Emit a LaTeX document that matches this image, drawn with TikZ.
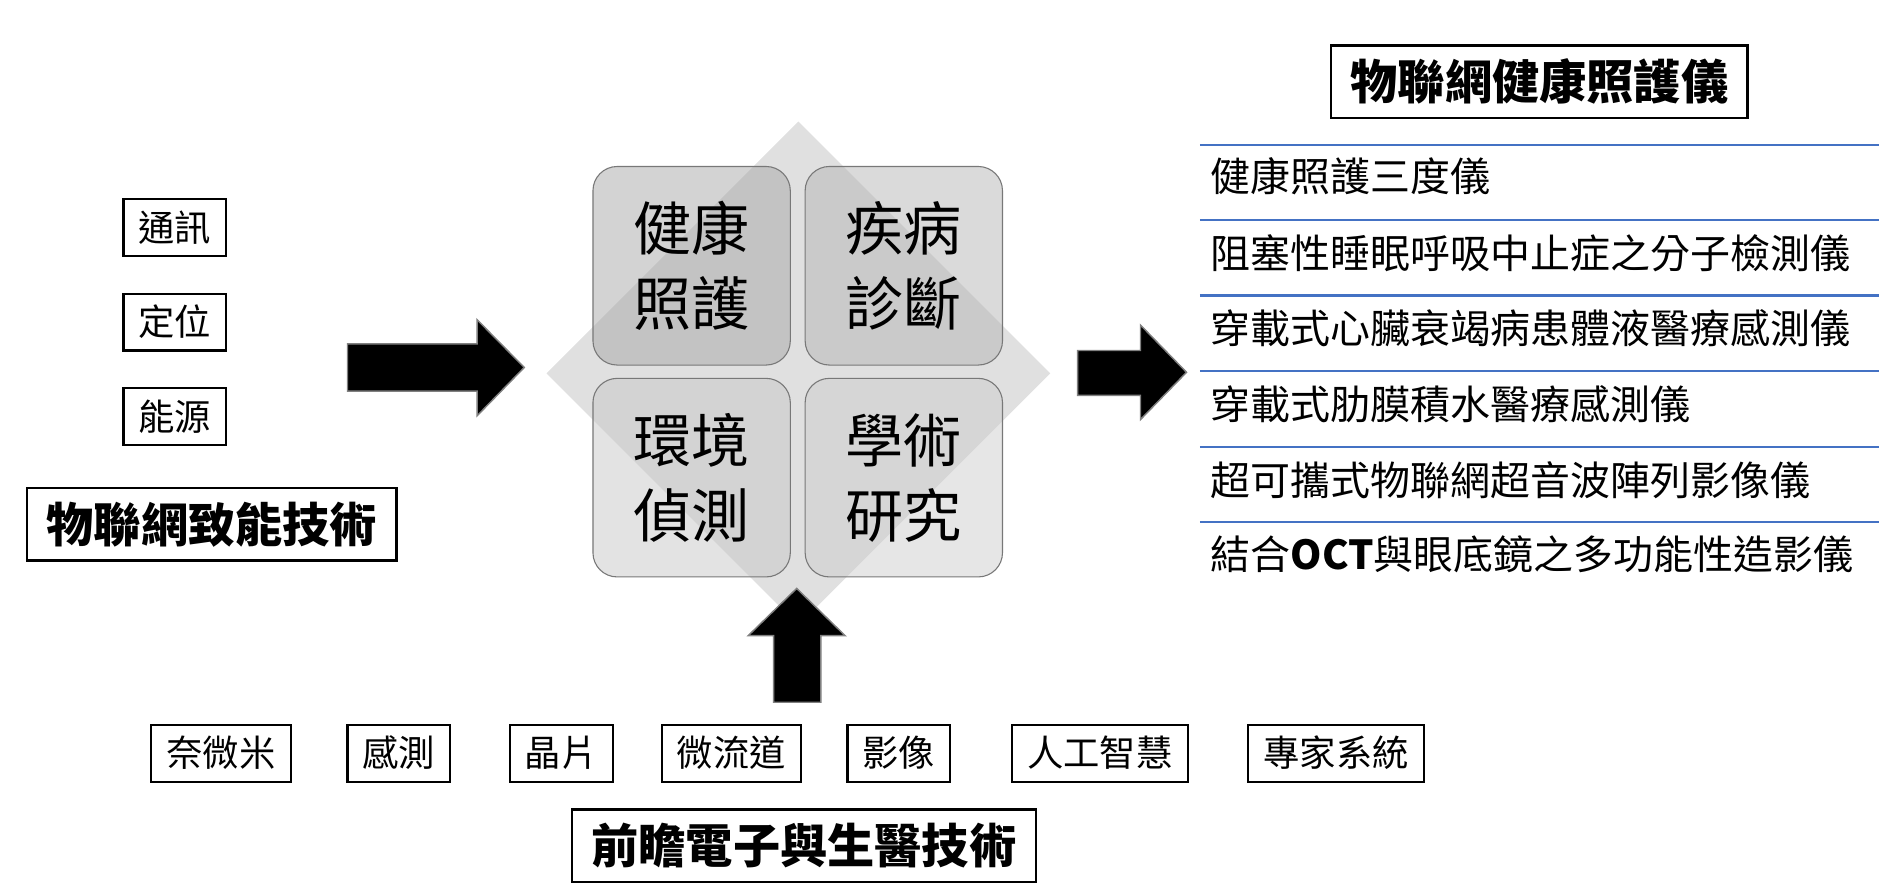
\documentclass[tikz,border=0pt]{standalone}
\usepackage{fontspec}
\setmainfont{Noto Sans CJK TC}
\definecolor{lineblue}{RGB}{68,114,196}
\definecolor{diam}{RGB}{224,224,224}
\definecolor{arrowedge}{RGB}{128,128,128}
\definecolor{cboxedge}{RGB}{120,120,120}
\begin{document}
\begin{tikzpicture}[x=1pt,y=-1pt,
  sbox/.style={draw=black,line width=1.7pt,minimum width=#1,minimum height=47pt,
    inner sep=0pt,font=\fontsize{30}{36}\selectfont,text height=24.9pt,text depth=2.1pt},
  tbox/.style={draw=black,line width=2pt,minimum height=60pt,inner xsep=16pt,inner ysep=0pt,
    font=\fontsize{39}{46}\selectfont\bfseries,text height=32.4pt,text depth=2.7pt},
  cbox/.style={draw=cboxedge,line width=0.9pt,rounded corners=20pt,minimum width=163pt,
    minimum height=164pt,inner sep=0pt,fill opacity=0.5,draw opacity=1,text opacity=1,
    align=center,font=\fontsize{48}{62}\selectfont},
  item/.style={anchor=west,inner sep=0pt,font=\fontsize{33}{40}\selectfont,
    text height=27.4pt,text depth=2.3pt},
  bluel/.style={draw=lineblue,line width=1.8pt},
  blockarrow/.style={fill=black,draw=arrowedge,line width=1.2pt,line join=miter}
]
\useasboundingbox (0,0) rectangle (1566,740);

% diamond background
\fill[diam] (659.4,100.4) -- (867.4,308.4) -- (659.4,516.4) -- (451.4,308.4) -- cycle;

% four quadrant boxes
\node[cbox,fill={rgb,255:red,168;green,168;blue,168}] (hc) at (571.25,219.5) {健康\\照護};
\node[cbox,fill={rgb,255:red,182;green,182;blue,182}] (dd) at (746.5,219.5) {疾病\\診斷};
\node[cbox,fill={rgb,255:red,200;green,200;blue,200}] (em) at (571.25,394.5) {環境\\偵測};
\node[cbox,fill={rgb,255:red,206;green,206;blue,206}] (ar) at (746.5,394.5) {學術\\研究};

% block arrows
\draw[blockarrow] (287,284) -- (394,284) -- (394,264) -- (433,303.5) -- (394,343.5)
  -- (394,323) -- (287,323) -- cycle;
\draw[blockarrow] (890,289.5) -- (942,289.5) -- (942,268.5) -- (980,307.5) -- (942,346.5)
  -- (942,326.5) -- (890,326.5) -- cycle;
\draw[blockarrow] (639,580) -- (639,525) -- (618,525) -- (658,486) -- (698,525)
  -- (678,525) -- (678,580) -- cycle;

% left side
\node[sbox=85pt] (comm) at (144.5,188) {通訊};
\node[sbox=85pt] (pos) at (144.5,266) {定位};
\node[sbox=85pt] (ener) at (144.5,344) {能源};
\node[tbox] (iot) at (175,433) {物聯網致能技術};

% bottom
\node[sbox=115pt] (nano) at (182.5,622) {奈微米};
\node[sbox=85pt] (sens) at (329.5,622) {感測};
\node[sbox=85pt] (chip) at (463.5,622) {晶片};
\node[sbox=115pt] (micro) at (604,622) {微流道};
\node[sbox=85pt] (img) at (742.5,622) {影像};
\node[sbox=145pt] (ai) at (908.5,622) {人工智慧};
\node[sbox=145pt] (exp) at (1103.5,622) {專家系統};
\node[tbox] (adv) at (664,698.5) {前瞻電子與生醫技術};

% right side
\node[tbox] (dev) at (1271.5,67.5) {物聯網健康照護儀};
\coordinate (l1a) at (991,120);   \coordinate (l1b) at (1552,120);
\coordinate (l2a) at (991,182);   \coordinate (l2b) at (1552,182);
\coordinate (l3a) at (991,244);   \coordinate (l3b) at (1552,244);
\coordinate (l4a) at (991,306.5); \coordinate (l4b) at (1552,306.5);
\coordinate (l5a) at (991,369);   \coordinate (l5b) at (1552,369);
\coordinate (l6a) at (991,431);   \coordinate (l6b) at (1552,431);
\foreach \i in {1,...,6} {\draw[bluel] (l\i a) -- (l\i b);}
\node[item] (i1) at (1000,146) {健康照護三度儀};
\node[item] (i2) at (1000,209) {阻塞性睡眠呼吸中止症之分子檢測儀};
\node[item] (i3) at (1000,271) {穿載式心臟衰竭病患體液醫療感測儀};
\node[item] (i4) at (1000,334) {穿載式肋膜積水醫療感測儀};
\node[item] (i5) at (1000,397) {超可攜式物聯網超音波陣列影像儀};
\node[item] (i6) at (1000,458) {結合{\bfseries OCT}與眼底鏡之多功能性造影儀};
\end{tikzpicture}
\end{document}
